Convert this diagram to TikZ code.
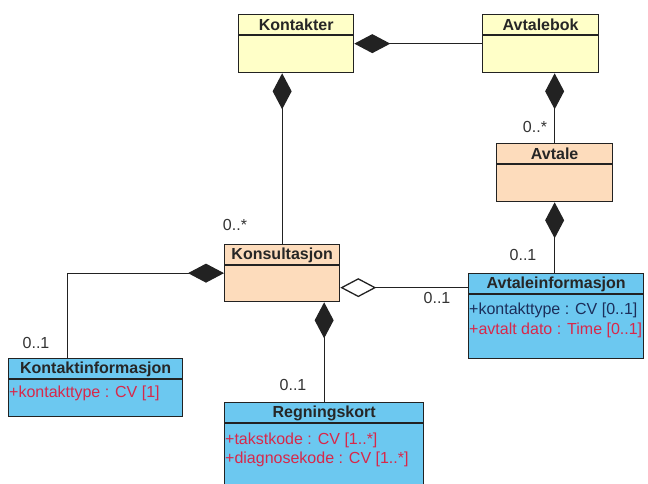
\documentclass[tikz,border=0pt]{standalone}
\usepackage{fontspec}
\setmainfont{Liberation Sans}
\usetikzlibrary{arrows.meta}

\definecolor{clsyellow}{HTML}{FFFFC8}
\definecolor{clspeach}{HTML}{FDDCBC}
\definecolor{clsblue}{HTML}{6CC8F0}
\definecolor{attrred}{HTML}{D8284A}
\definecolor{attrnavy}{HTML}{1C2E5A}
\definecolor{edgegray}{HTML}{222222}

\begin{document}
\begin{tikzpicture}[x=1pt,y=-1pt,
  cls/.style={draw=edgegray, line width=1.3pt, rectangle, inner sep=0pt, anchor=north west},
  divider/.style={draw=edgegray, line width=1.3pt},
  clstitle/.style={font=\bfseries\fontsize{16}{18}\selectfont, text=black!85, inner sep=0pt, anchor=center},
  attr/.style={font=\fontsize{16}{18}\selectfont, inner sep=0pt, anchor=west},
  mult/.style={font=\fontsize{16}{18}\selectfont, text=black!80, inner sep=0pt},
  link/.style={draw=edgegray, line width=1.3pt},
  comp/.style={{Diamond[length=36pt,width=19pt]}-},
  agg/.style={{Diamond[open,length=36pt,width=19pt,fill=white]}-}
]
\useasboundingbox (0,0) rectangle (648,484);

% classes
\node[cls, fill=clsyellow, minimum width=115pt, minimum height=58pt] (kontakter) at (238,14) {};
\node[cls, fill=clsyellow, minimum width=116pt, minimum height=58pt] (avtalebok) at (482,14) {};
\node[cls, fill=clspeach, minimum width=116pt, minimum height=58pt] (avtale) at (496,143) {};
\node[cls, fill=clspeach, minimum width=115pt, minimum height=57pt] (konsultasjon) at (224,244) {};
\node[cls, fill=clsblue, minimum width=175pt, minimum height=85pt] (avtaleinfo) at (468,273) {};
\node[cls, fill=clsblue, minimum width=174pt, minimum height=58pt] (kontaktinfo) at (8,358) {};
\node[cls, fill=clsblue, minimum width=199pt, minimum height=90pt] (regningskort) at (224,402) {};

% header dividers and class names
\foreach \c/\t in {kontakter/Kontakter, avtalebok/Avtalebok, avtale/Avtale,
                   konsultasjon/Konsultasjon, avtaleinfo/Avtaleinformasjon,
                   kontaktinfo/Kontaktinformasjon, regningskort/Regningskort}{
  \draw[divider] ([yshift=-21pt]\c.north west) -- ([yshift=-21pt]\c.north east);
  \node[clstitle] (\c-title) at ([yshift=-11pt]\c.north) {\t};
}

% attributes
\node[attr, text=attrnavy] (ai-a1) at ([xshift=1pt,yshift=-37pt]avtaleinfo.north west) {+kontakttype : CV [0..1]};
\node[attr, text=attrred] (ai-a2) at ([xshift=1pt,yshift=-57pt]avtaleinfo.north west) {+avtalt dato : Time [0..1]};
\node[attr, text=attrred] (ki-a1) at ([xshift=1pt,yshift=-35pt]kontaktinfo.north west) {+kontakttype : CV [1]};
\node[attr, text=attrred] (rk-a1) at ([xshift=1pt,yshift=-38pt]regningskort.north west) {+takstkode : CV [1..*]};
\node[attr, text=attrred] (rk-a2) at ([xshift=1pt,yshift=-57pt]regningskort.north west) {+diagnosekode : CV [1..*]};

% associations
\draw[link, comp] (kontakter.east) -- (avtalebok.west);
\draw[link, comp] (kontakter.south -| konsultasjon.north) -- (konsultasjon.north);
\draw[link, comp] (avtalebok.south -| avtale.north) -- (avtale.north);
\draw[link, comp] (avtale.south) -- (avtale.south |- avtaleinfo.north);
\coordinate (aggstart) at ([yshift=-14.5pt]konsultasjon.east);
\draw[link, agg] (aggstart) -- (aggstart -| avtaleinfo.west);
\coordinate (kibend) at ([xshift=-28pt]kontaktinfo.north);
\draw[link, comp] (konsultasjon.west) -| (kibend);
\draw[link, comp] (konsultasjon.south -| regningskort.north) -- (regningskort.north);

% multiplicities
\node[mult] (m1) at (535,127) {0..*};
\node[mult] (m2) at (523,255) {0..1};
\node[mult] (m3) at (437,298) {0..1};
\node[mult] (m4) at (235,225) {0..*};
\node[mult] (m5) at (36,343) {0..1};
\node[mult] (m6) at (293,385) {0..1};
\end{tikzpicture}
\end{document}
